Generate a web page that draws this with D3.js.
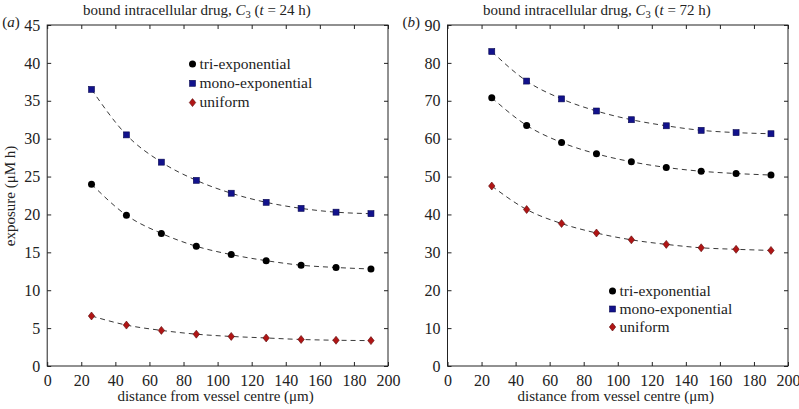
<!DOCTYPE html>
<html><head><meta charset="utf-8">
<script src="https://cdn.jsdelivr.net/npm/d3@7"></script>
<style>
body{margin:0;background:#fff;}
svg text{font-family:"Liberation Serif","Times New Roman",Times,serif !important;fill:#222;}
</style></head>
<body><svg id="c" width="799" height="409" font-family="Liberation Serif"></svg>
<script>
const distances = [26, 46.5, 67, 87.5, 108, 128.5, 149, 169.5, 190];
const xTicks = [0, 20, 40, 60, 80, 100, 120, 140, 160, 180, 200];
const seriesNames = ["tri-exponential", "mono-exponential", "uniform"];
// panel (a): t = 24 h
const triA  = [24.0, 19.9, 17.5, 15.8, 14.7, 13.9, 13.3, 13.0, 12.8];
const monoA = [36.5, 30.5, 26.9, 24.5, 22.8, 21.6, 20.8, 20.3, 20.1];
const uniA  = [6.6, 5.4, 4.7, 4.2, 3.9, 3.7, 3.5, 3.4, 3.35];
const yTicksA = [0, 5, 10, 15, 20, 25, 30, 35, 40, 45];
// panel (b): t = 72 h
const triB  = [70.8, 63.5, 59.0, 56.0, 53.9, 52.4, 51.4, 50.8, 50.4];
const monoB = [83.0, 75.2, 70.5, 67.3, 65.0, 63.4, 62.2, 61.6, 61.3];
const uniB  = [47.5, 41.3, 37.6, 35.1, 33.3, 32.1, 31.2, 30.8, 30.5];
const yTicksB = [0, 10, 20, 30, 40, 50, 60, 70, 80, 90];

const svg = d3.select("#c");
const plotTop = 25, plotBottom = 366;

function panel(opts){
  const g = svg.append("g");
  const x = d3.scaleLinear().domain([0,200]).range([opts.left, opts.right]);
  const y = d3.scaleLinear().domain([0, opts.ymax]).range([plotBottom, plotTop]);
  g.append("rect").attr("x",opts.left).attr("y",plotTop).attr("width",opts.right-opts.left).attr("height",plotBottom-plotTop)
    .attr("fill","none").attr("stroke","#222").attr("stroke-width",1);
  const ax = g.append("g").attr("transform",`translate(0,${plotBottom})`)
    .call(d3.axisBottom(x).tickValues(opts.xt).tickSize(-4).tickPadding(9));
  const axT = g.append("g").attr("transform",`translate(0,${plotTop})`)
    .call(d3.axisTop(x).tickValues(opts.xt).tickSize(-4).tickFormat(""));
  const ay = g.append("g").attr("transform",`translate(${opts.left},0)`)
    .call(d3.axisLeft(y).tickValues(opts.yt).tickSize(-4).tickPadding(7));
  const ayR = g.append("g").attr("transform",`translate(${opts.right},0)`)
    .call(d3.axisRight(y).tickValues(opts.yt).tickSize(-4).tickFormat(""));
  [ax,axT,ay,ayR].forEach(a=>{
    a.attr("font-family",null).attr("font-size",null);
    a.select(".domain").remove();
    a.selectAll("line").attr("stroke","#222");
    a.selectAll("text").style("font-size","16px").attr("fill","#222");
  });
  g.append("text").attr("x",(opts.left+opts.right)/2 - 2).attr("y",401).attr("text-anchor","middle")
    .style("font-size","15px").text("distance from vessel centre (\u03BCm)");
  const t = g.append("text").attr("x",opts.titleX).attr("y",15).style("font-size","15px");
  t.append("tspan").text("bound intracellular drug, ");
  t.append("tspan").style("font-style","italic").text("C");
  t.append("tspan").attr("dy",3).style("font-size","10.5px").text("3");
  t.append("tspan").attr("dy",-3).text(" (");
  t.append("tspan").style("font-style","italic").text("t");
  t.append("tspan").text(" = " + opts.tlabel + " h)");
  const pl = g.append("text").attr("x",opts.left-45).attr("y",27).style("font-size","15px");
  pl.append("tspan").text("(");
  pl.append("tspan").style("font-style","italic").text(opts.letter);
  pl.append("tspan").text(")");

  const line = d3.line().x((d,i)=>x(distances[i])).y(d=>y(d)).curve(d3.curveMonotoneX);
  const series = [
    {vals:opts.tri, shape:"circle"},
    {vals:opts.mono, shape:"square"},
    {vals:opts.uni, shape:"diamond"}
  ];
  series.forEach(s=>{
    g.append("path").attr("d",line(s.vals)).attr("fill","none").attr("stroke","#222")
      .attr("stroke-width",0.9).attr("stroke-dasharray","5,4");
  });
  function marker(sel, shape, cx, cy){
    if(shape==="circle"){
      sel.append("circle").attr("cx",cx).attr("cy",cy).attr("r",3.5).attr("fill","#000");
    } else if(shape==="square"){
      sel.append("rect").attr("x",cx-3).attr("y",cy-3).attr("width",6).attr("height",6)
        .attr("fill","#12128c").attr("stroke","#0a0a50").attr("stroke-width",0.6);
    } else {
      sel.append("path").attr("d",`M${cx},${cy-4}L${cx+3.2},${cy}L${cx},${cy+4}L${cx-3.2},${cy}Z`)
        .attr("fill","#b01515").attr("stroke","#5a0a0a").attr("stroke-width",0.6);
    }
  }
  series.forEach(s=>{
    s.vals.forEach((v,i)=>marker(g, s.shape, x(distances[i]), y(v)));
  });
  series.forEach((s,i)=>{
    const ly = opts.legY + i*opts.legDy;
    marker(g, s.shape, opts.legX, ly);
    g.append("text").attr("x",opts.legX+7).attr("y",ly+4.5).style("font-size","15.5px").text(seriesNames[i]);
  });
}

panel({left:47.2, right:388, ymax:45, xt:xTicks, yt:yTicksA, tri:triA, mono:monoA, uni:uniA,
  titleX:83, tlabel:"24", letter:"a", legX:192.5, legY:64, legDy:19.3});
panel({left:447.5, right:788, ymax:90, xt:xTicks, yt:yTicksB, tri:triB, mono:monoB, uni:uniB,
  titleX:483, tlabel:"72", letter:"b", legX:612.5, legY:291, legDy:18});

svg.append("text").attr("transform","translate(15,196) rotate(-90)").attr("text-anchor","middle")
  .style("font-size","15px").text("exposure (\u03BCM h)");
</script></body></html>
